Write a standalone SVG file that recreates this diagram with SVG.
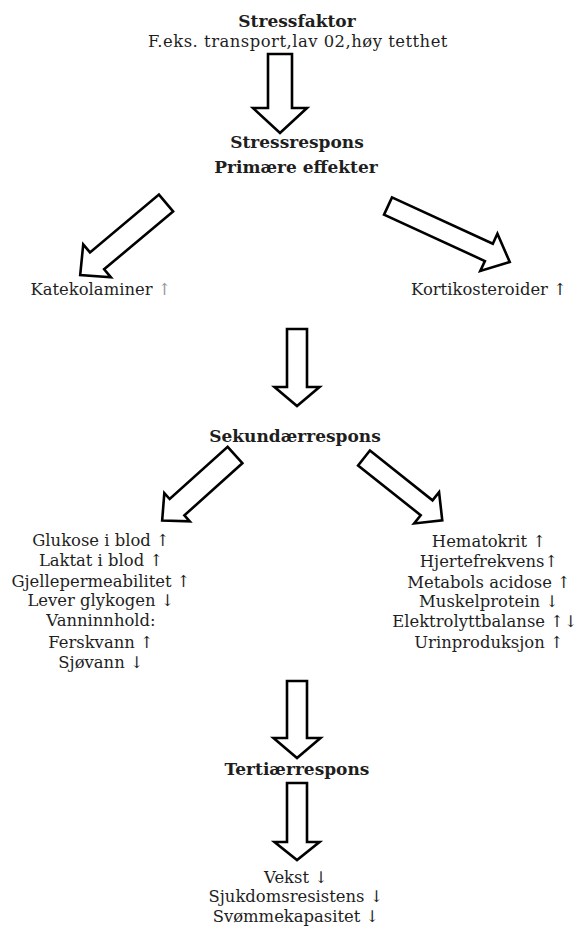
<svg xmlns="http://www.w3.org/2000/svg" width="582" height="929" viewBox="0 0 582 929">
  <style>
    text { font-family: "DejaVu Serif", "Liberation Serif", serif; fill: #1e1e1e; text-anchor: middle; }
    .title { font-weight: bold; font-size: 17px; }
    .item { font-size: 16.4px; }
    .wide { letter-spacing: 0.5px; }
    .soft { fill: #999; }
    .arrow { fill: #fff; stroke: #000; stroke-width: 2.6; stroke-linejoin: miter; }
  </style>

  <rect width="582" height="929" fill="#fff"/>

  <!-- block arrows: drawn pointing along +x, then placed and rotated -->
  <g id="connectors">
    <path class="arrow" transform="translate(280,54) rotate(90)" d="M0,-12 L54,-12 L54,-27 L79,0 L54,27 L54,12 L0,12 Z"/>
    <path class="arrow" transform="translate(166,203) rotate(140)" d="M0,-11 L90,-11 L90,-21.5 L112,0 L90,21.5 L90,11 L0,11 Z"/>
    <path class="arrow" transform="translate(388,206) rotate(24.7)" d="M0,-9.5 L111,-9.5 L111,-20.5 L134,0 L111,20.5 L111,9.5 L0,9.5 Z"/>
    <path class="arrow" transform="translate(297,329) rotate(90)" d="M0,-10 L58,-10 L58,-22.5 L77,0 L58,22.5 L58,10 L0,10 Z"/>
    <path class="arrow" transform="translate(235,455) rotate(138)" d="M0,-11 L78,-11 L78,-19 L98,0 L78,19 L78,11 L0,11 Z"/>
    <path class="arrow" transform="translate(364,458) rotate(38.5)" d="M0,-9.5 L80,-9.5 L80,-20 L100,0 L80,20 L80,9.5 L0,9.5 Z"/>
    <path class="arrow" transform="translate(297,681) rotate(90)" d="M0,-10 L57,-10 L57,-23.5 L77,0 L57,23.5 L57,10 L0,10 Z"/>
    <path class="arrow" transform="translate(297,783) rotate(90)" d="M0,-10 L59,-10 L59,-22.5 L77,0 L59,22.5 L59,10 L0,10 Z"/>
  </g>

  <g id="stressfaktor">
    <text class="title" x="297" y="27">Stressfaktor</text>
    <text class="item wide" x="298" y="47">F.eks. transport,lav 02,høy tetthet</text>
  </g>

  <g id="stressrespons">
    <text class="title" x="297" y="148">Stressrespons</text>
    <text class="title" x="296" y="173">Primære effekter</text>
  </g>

  <g id="katekolaminer">
    <text class="item" x="101" y="295">Katekolaminer <tspan class="soft">↑</tspan></text>
  </g>

  <g id="kortikosteroider">
    <text class="item" x="489" y="295">Kortikosteroider ↑</text>
  </g>

  <g id="sekundaerrespons">
    <text class="title" x="295" y="442">Sekundærrespons</text>
  </g>

  <g id="sekundaer-venstre">
    <text class="item" x="101" y="546">Glukose i blod ↑</text>
    <text class="item" x="101" y="566">Laktat i blod ↑</text>
    <text class="item" x="101" y="587">Gjellepermeabilitet ↑</text>
    <text class="item" x="101" y="606">Lever glykogen ↓</text>
    <text class="item" x="101" y="626">Vanninnhold:</text>
    <text class="item" x="101" y="648">Ferskvann ↑</text>
    <text class="item" x="101" y="668">Sjøvann ↓</text>
  </g>

  <g id="sekundaer-hoyre">
    <text class="item" x="489" y="547">Hematokrit ↑</text>
    <text class="item" x="489" y="567">Hjertefrekvens↑</text>
    <text class="item" x="489" y="588">Metabols acidose ↑</text>
    <text class="item" x="489" y="607">Muskelprotein ↓</text>
    <text class="item" x="485" y="627">Elektrolyttbalanse ↑↓</text>
    <text class="item" x="489" y="648">Urinproduksjon ↑</text>
  </g>

  <g id="tertiaerrespons">
    <text class="title" x="297" y="775">Tertiærrespons</text>
  </g>

  <g id="tertiaer-effekter">
    <text class="item" x="296" y="883">Vekst ↓</text>
    <text class="item" x="296" y="902">Sjukdomsresistens ↓</text>
    <text class="item" x="296" y="922">Svømmekapasitet ↓</text>
  </g>
</svg>
